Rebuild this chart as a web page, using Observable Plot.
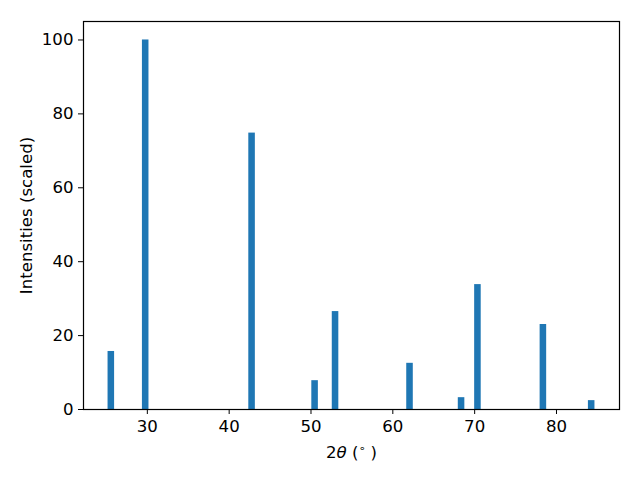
<!DOCTYPE html>
<html>
<head>
<meta charset="utf-8">
<script src="https://cdn.jsdelivr.net/npm/d3@7"></script>
<script src="https://cdn.jsdelivr.net/npm/@observablehq/plot@0.6"></script>
<style>
  html, body { margin: 0; padding: 0; background: #fff; }
</style>
</head>
<body>
<div id="chart"></div>
<script>
const angles = [25.6, 29.8, 42.8, 50.5, 53.0, 62.1, 68.4, 70.4, 78.4, 84.3];
const intensities = [15.7, 100, 74.8, 7.8, 26.5, 12.5, 3.2, 33.8, 23.0, 2.4];
const xTicks = [30, 40, 50, 60, 70, 80];
const yTicks = [0, 20, 40, 60, 80, 100];
const barWidth = 0.8;

const data = angles.map((a, i) => ({angle: a, intensity: intensities[i]}));

const plot = Plot.plot({
  width: 640,
  height: 480,
  marginLeft: 83,
  marginRight: 21,
  marginTop: 21,
  marginBottom: 71,
  style: {fontFamily: "DejaVu Sans", fontSize: "16.6px", background: "#fff", color: "#000"},
  x: {domain: [22.2, 87.7]},
  y: {domain: [0, 105]},
  marks: [
    Plot.rectY(data, {x1: d => d.angle - barWidth / 2, x2: d => d.angle + barWidth / 2, y1: 0, y2: "intensity", fill: "#1f77b4"}),
    Plot.frame({stroke: "#000", strokeWidth: 1.2}),
    Plot.axisX({ticks: xTicks, tickSize: 5, tickPadding: 6, label: null, fontSize: 16.6, stroke: "#000"}),
    Plot.axisY({ticks: yTicks, tickSize: 5, tickPadding: 5, label: null, fontSize: 16.6, stroke: "#000"}),
    Plot.text(["Intensities (scaled)"], {frameAnchor: "left", textAnchor: "middle", dx: -57, rotate: -90, fontSize: 16.6, fill: "#000"}),
    Plot.text(["2θ (°)"], {frameAnchor: "bottom", dy: 48, fontSize: 16.6, fill: "#000", className: "xlab"})
  ]
});
document.getElementById("chart").appendChild(plot);

const xl = d3.select(plot).select("g.xlab text");
if (!xl.empty()) {
  xl.text(null);
  xl.append("tspan").text("2");
  xl.append("tspan").attr("font-style", "italic").text("θ");
  xl.append("tspan").text(" (");
  xl.append("tspan").attr("font-size", "11px").attr("dy", "-0.5em").text("∘");
  xl.append("tspan").attr("dy", "0.35em").text(" )");
}
</script>
</body>
</html>
